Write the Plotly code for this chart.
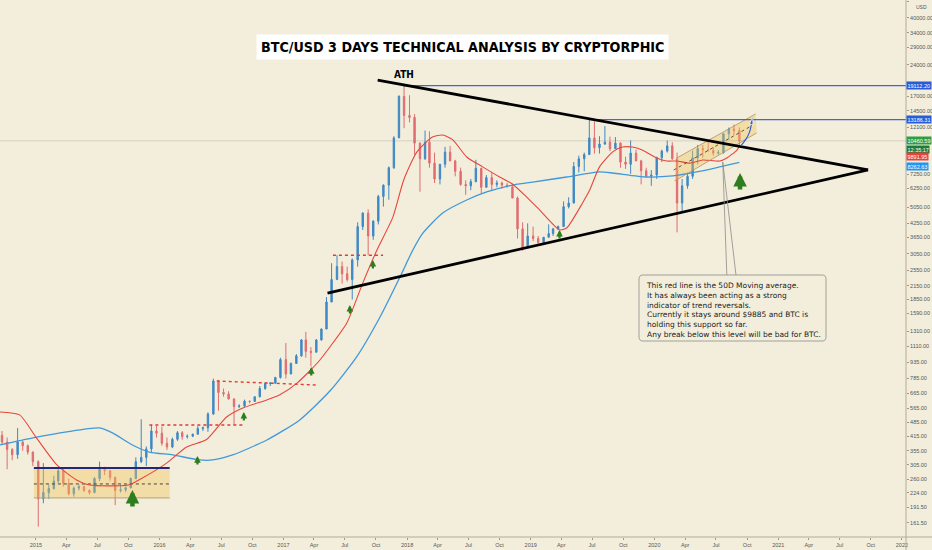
import numpy as np
import pandas as pd
import plotly.graph_objects as go

# Half-month candles (BTC/USD), Sep 2014 .. Sep 2020
first_open = 420
candle_close = [
    390, 360, 340, 390, 375, 350, 315,  # 2014
    210, 225, 235, 255, 285, 248, 222, 236, 240, 230, 225, 262,
    290, 285, 265, 230, 232, 237, 262, 315, 330, 362, 440, 430,  # 2015
    385, 370, 402, 432, 414, 416, 425, 452, 456, 530, 760, 670,
    660, 625, 575, 578, 610, 608, 640, 700, 740, 742, 790, 960,  # 2016
    820, 920, 1000, 1190, 1050, 1040, 1190, 1340, 1800, 2300, 2650, 2450,
    2300, 2850, 4100, 4750, 3700, 4350, 5700, 6450, 7800, 10800, 17000, 13800,  # 2017
    13500, 10200, 8600, 10300, 8200, 6900, 8100, 9250, 8400, 7500, 6500, 6400,
    6700, 7750, 6300, 7000, 6500, 6600, 6450, 6330, 5600, 4000, 3250, 3700,  # 2018
    3600, 3450, 3650, 3800, 4000, 4100, 5100, 5300, 7900, 8600, 9000, 10800,
    9700, 10100, 10300, 9600, 10200, 8300, 8100, 9150, 8400, 7550, 7100, 7200,  # 2019
    8700, 9350, 9900, 8600, 5300, 6400, 7100, 8700, 9600, 9500, 9400, 9150,
    9200, 11300, 11900, 11700, 10460,  # 2020
]
candle_high = [
    440, 410, 365, 455, 395, 380, 352,
    320, 310, 245, 270, 298, 290, 262, 240, 245, 242, 233, 266,
    315, 298, 288, 268, 246, 240, 265, 330, 500, 372, 470, 465,
    462, 410, 410, 440, 440, 424, 428, 465, 462, 540, 780, 770,
    700, 680, 630, 590, 620, 614, 640, 720, 750, 752, 795, 980,
    1150, 930, 1020, 1200, 1300, 1100, 1200, 1350, 1900, 2750, 3000, 2800,
    2650, 2900, 4300, 4800, 4950, 4400, 5800, 6500, 7900, 11000, 17200, 19112,
    17200, 14000, 10300, 11700, 11600, 9200, 8100, 9800, 9900, 8500, 7800, 6800,
    6900, 8500, 7800, 7200, 7400, 6800, 6700, 6600, 6550, 5700, 4300, 4250,
    4100, 3700, 3650, 4200, 4050, 4150, 5400, 5650, 8300, 8900, 9200, 13186,
    13000, 11000, 12300, 10950, 10900, 10300, 8800, 10500, 9500, 8500, 7800, 7600,
    8800, 9500, 10500, 10300, 9200, 6900, 7400, 9400, 10000, 10000, 10400, 9800,
    9450, 11400, 12100, 12500, 12100,
]
candle_low = [
    380, 290, 320, 325, 355, 340, 300,
    155, 200, 210, 232, 250, 240, 218, 215, 230, 226, 220, 223,
    255, 272, 256, 196, 225, 226, 235, 260, 310, 300, 350, 410,
    375, 358, 365, 395, 400, 405, 412, 424, 440, 436, 525, 550,
    640, 620, 470, 565, 570, 595, 605, 635, 690, 720, 740, 780,
    780, 820, 920, 990, 980, 890, 1040, 1180, 1340, 1800, 2300, 2200,
    2250, 1850, 2650, 3950, 3000, 3550, 4200, 5100, 5500, 7700, 10800, 12000,
    12800, 9000, 6000, 8500, 7800, 6600, 6500, 7800, 8400, 7100, 6400, 5800,
    6100, 6650, 5880, 6300, 6100, 6300, 6200, 6300, 5600, 3600, 3150, 3250,
    3500, 3400, 3350, 3650, 3700, 3950, 4100, 5000, 5300, 7400, 7500, 9000,
    9100, 9100, 10000, 9350, 9600, 7800, 7700, 7300, 8400, 6500, 7100, 6400,
    6900, 8300, 9200, 8500, 3850, 4800, 6200, 6900, 8100, 8700, 9300, 8900,
    9000, 9100, 10600, 11100, 10000,
]
candle_open = [first_open] + candle_close[:-1]


def half_month_dates(start, end):
    out = []
    for m in pd.period_range(start, end, freq="M"):
        for d in (8, 23):
            out.append(pd.Timestamp(year=m.year, month=m.month, day=d))
    return out


candle_dates = half_month_dates("2014-09", "2020-09")[1:-1]
assert len(candle_dates) == len(candle_close) == len(candle_high) == len(candle_low)

# 50 period moving average (red)
ma50_dates = ["2014-09-17", "2014-11-14", "2015-01-01", "2015-03-04", "2015-05-01", "2015-06-08",
              "2015-10-01", "2015-11-01", "2016-01-22", "2016-03-21", "2016-05-19", "2016-07-17",
              "2016-09-03", "2016-11-13", "2016-12-20", "2017-02-10", "2017-04-11", "2017-05-18",
              "2017-07-07", "2017-08-23", "2017-10-04", "2017-11-20", "2017-12-22", "2018-01-30",
              "2018-03-17", "2018-04-16", "2018-05-16", "2018-06-26", "2018-08-12", "2018-10-01",
              "2018-11-08", "2018-12-20", "2019-01-27", "2019-03-27", "2019-04-17", "2019-06-03",
              "2019-06-24", "2019-07-23", "2019-08-31", "2019-09-29", "2019-10-28", "2019-11-26",
              "2020-01-08", "2020-02-06", "2020-03-07", "2020-04-15", "2020-05-23", "2020-07-12",
              "2020-08-02", "2020-09-01", "2020-09-08"]
ma50_vals = [542, 525, 412, 304, 258, 244,
             244, 258, 310, 370, 401, 513,
             566, 618, 652, 743, 925, 1102,
             1432, 2213, 3177, 4550, 6823, 9268,
             10910, 11140, 10570, 8770, 7870, 7050,
             6530, 5660, 4920, 3955, 4036, 5310,
             6110, 7870, 9270, 9770, 9770, 9460,
             8670, 8390, 8390, 8200, 8490, 8390,
             8670, 9460, 9892]

# 200 period moving average (blue)
ma200_dates = ["2014-09-17", "2014-12-23", "2015-04-02", "2015-07-08", "2015-08-15", "2015-10-13",
               "2015-12-02", "2016-02-09", "2016-04-28", "2016-06-06", "2016-08-04", "2016-11-13",
               "2017-02-18", "2017-05-18", "2017-08-05", "2017-10-13", "2017-12-11", "2018-01-18",
               "2018-02-17", "2018-04-16", "2018-06-26", "2018-08-24", "2018-11-08", "2019-01-07",
               "2019-04-17", "2019-07-23", "2019-08-31", "2019-12-09", "2020-02-24", "2020-05-05",
               "2020-07-12", "2020-09-08"]
ma200_vals = [378, 408, 436, 455, 431, 378,
              350, 339, 321, 321, 339, 399,
              497, 681, 988, 1528, 2366, 3177,
              3828, 4755, 5483, 5984, 6457, 6668,
              7047, 7447, 7362, 7047, 7129, 7447,
              7870, 8263]

# drawings
tri_upper = (["2017-10-06", "2021-09-23"], [20320, 7610])
tri_lower = (["2017-05-11", "2021-09-23"], [1986, 7610])
ath_level, ath_date = 19112.20, "2017-12-20"
peak19_level, peak19_date = 13186.31, "2019-06-26"
last_price = 10460.59
ma50_last, ma200_last = 9891.95, 8262.63
red_dotted = [
    (["2015-12-02", "2016-09-03"], [470, 470]),
    (["2016-06-18", "2017-04-10"], [760, 727]),
    (["2017-05-27", "2017-10-22"], [3000, 3000]),
]
box15_dates = ["2014-12-26", "2016-01-31"]
box15_levels = [212, 247, 294]
chan_upper = (["2020-03-07", "2020-10-26"], [8670, 14030])
chan_lower = (["2020-03-01", "2020-10-29"], [6745, 11400])
chan_mid = (["2020-02-27", "2020-10-08"], [7605, 12170])
curve_dates = ["2020-09-12", "2020-09-26", "2020-10-08", "2020-10-17"]
curve_vals = [9890, 10570, 11510, 13430]
callout_tip = ("2020-07-21", 8300)
callout_feet = (["2020-08-02", "2020-08-29"], [2417, 2417])
small_arrow_dates = ["2016-04-22", "2016-09-06", "2017-03-24", "2017-07-16", "2017-09-22", "2019-03-27"]
small_arrow_prices = [335, 542, 885, 1742, 2850, 3955]
big_arrow_dates = ["2015-10-13", "2020-09-10"]
big_arrow_prices = [231, 7362]

y_ticks = [48000, 40000, 34000, 29000, 24000, 17000, 14500, 12100, 7250, 6250, 5050, 4250,
           3650, 3050, 2550, 2150, 1850, 1590, 1310, 1110, 935, 785, 665, 565, 485, 415,
           355, 305, 260, 224, 191.5, 161.5]
x_ticks = pd.date_range("2015-01-01", "2022-01-01", freq="QS")
x_labels = [str(d.year) if d.month == 1 else d.strftime("%b") for d in x_ticks]

BG = "#F3EEDB"
UP, DOWN = "#3f88c5", "#e06c70"
GREEN = "#2e7d1e"
PLOT_W, PLOT_H = 906, 537
SMALL_FONT = dict(family="Liberation Sans, Arial", size=5.5, color="#555")

fig = go.Figure()


def line(x, y, color, width=1.0, dash=None, **kw):
    fig.add_trace(go.Scatter(x=x, y=y, mode="lines", hoverinfo="skip",
                             line=dict(color=color, width=width, dash=dash), **kw))


# 2015 range box
bx = [box15_dates[0], box15_dates[1], box15_dates[1], box15_dates[0], box15_dates[0]]
by = [box15_levels[0], box15_levels[0], box15_levels[2], box15_levels[2], box15_levels[0]]
fig.add_trace(go.Scatter(x=bx, y=by, fill="toself", fillcolor="rgba(240,195,90,0.4)",
                         mode="lines", line=dict(width=0), hoverinfo="skip"))
line(box15_dates, [box15_levels[0]] * 2, "#b0a080", 1)
line(box15_dates, [box15_levels[1]] * 2, "#444", 1, "dot")

# 2020 rising channel
cx = chan_upper[0] + chan_lower[0][::-1] + chan_upper[0][:1]
cy = chan_upper[1] + chan_lower[1][::-1] + chan_upper[1][:1]
fig.add_trace(go.Scatter(x=cx, y=cy, fill="toself", fillcolor="rgba(240,195,90,0.4)",
                         mode="lines", line=dict(width=0), hoverinfo="skip"))

fig.add_trace(go.Candlestick(
    x=candle_dates, open=candle_open, high=candle_high, low=candle_low, close=candle_close,
    increasing=dict(line=dict(color=UP, width=1), fillcolor=UP),
    decreasing=dict(line=dict(color=DOWN, width=1), fillcolor=DOWN),
    whiskerwidth=0, hoverinfo="skip"))

fig.add_trace(go.Scatter(x=ma200_dates, y=ma200_vals, mode="lines", hoverinfo="skip",
                         line=dict(color="#3f98dc", width=1.3, shape="spline", smoothing=0.6)))
fig.add_trace(go.Scatter(x=ma50_dates, y=ma50_vals, mode="lines", hoverinfo="skip",
                         line=dict(color="#e8453c", width=1.1, shape="spline", smoothing=0.6)))

line(chan_upper[0], chan_upper[1], "#a8936a", 0.8)
line(chan_lower[0], chan_lower[1], "#a8936a", 0.8)
line(chan_mid[0], chan_mid[1], "#333", 0.8, "dot")
line(box15_dates, [box15_levels[2]] * 2, "#262680", 2)

for dx, dy in red_dotted:
    line(dx, dy, "#e53935", 1.4, "dot")

line(["2014-09-01", "2022-03-01"], [last_price] * 2, "rgba(120,120,120,0.35)", 0.7)
line([ath_date, "2022-03-01"], [ath_level] * 2, "#3a6ad4", 1.3)
line([peak19_date, "2022-03-01"], [peak19_level] * 2, "#3a6ad4", 1.3)

line(tri_upper[0], tri_upper[1], "black", 2.8)
line(tri_lower[0], tri_lower[1], "black", 2.8)

for fx, fy in zip(*callout_feet):
    line([callout_tip[0], fx], [callout_tip[1], fy], "#8a8a8a", 0.8)

fig.add_trace(go.Scatter(x=curve_dates, y=curve_vals, mode="lines+markers", hoverinfo="skip",
                         line=dict(color="#2a5bd7", width=1.1, shape="spline"),
                         marker=dict(symbol="arrow", angleref="previous", color="#2a5bd7",
                                     size=[0, 0, 0, 7])))

annotations = []
for d, p in zip(small_arrow_dates, small_arrow_prices):
    annotations.append(dict(x=d, y=np.log10(p), text="", showarrow=True, ax=0, ay=10,
                            arrowcolor=GREEN, arrowwidth=2.2, arrowhead=2, arrowsize=0.6))
for d, p in zip(big_arrow_dates, big_arrow_prices):
    annotations.append(dict(x=d, y=np.log10(p), text="", showarrow=True, ax=0, ay=18,
                            arrowcolor=GREEN, arrowwidth=4.5, arrowhead=2, arrowsize=0.6))

annotations.append(dict(x="2017-12-22", y=np.log10(21470), text="<b>ATH</b>", showarrow=False,
                        yanchor="middle",
                        font=dict(family="DejaVu Sans Condensed, Liberation Sans", size=10,
                                  color="black")))
annotations.append(dict(xref="paper", yref="paper", x=463 / PLOT_W, y=1 - 47 / PLOT_H,
                        yanchor="middle",
                        text="<b>BTC/USD 3 DAYS TECHNICAL ANALYSIS BY CRYPTORPHIC</b>",
                        showarrow=False, bgcolor="white", borderpad=4,
                        font=dict(family="DejaVu Sans Condensed, Liberation Sans Narrow, sans-serif",
                                  size=14.2, color="black")))
note = ("This red line is the 50D Moving average.<br>"
        "It has always been acting as a strong<br>"
        "indicator of trend reversals.<br>"
        "Currently it stays around $9885 and BTC is<br>"
        "holding this support so far.<br>"
        "Any break below this level will be bad for BTC.")
annotations.append(dict(xref="paper", yref="paper", x=644 / PLOT_W, y=1 - 279 / PLOT_H,
                        xanchor="left", yanchor="top", align="left", text=note, showarrow=False,
                        font=dict(family="DejaVu Sans", size=7.5, color="#222")))

# price badges on the right scale; the shift keeps them stacked like the original
badges = [(ath_level, "19112.20", "#2a5bd7", 0), (peak19_level, "13186.31", "#2a5bd7", 0),
          (last_price, "10460.59", "#2f9e44", 0), (last_price, "12:35:17", "#237a37", -9),
          (ma50_last, "9891.95", "#e8413c", -11), (ma200_last, "8262.63", "#2196f3", -4)]
for v, t, c, sh in badges:
    annotations.append(dict(xref="paper", yref="y", x=1, y=np.log10(v), xanchor="left",
                            yanchor="middle", yshift=sh, text=t, showarrow=False, bgcolor=c,
                            borderpad=0.5, font=dict(family="Liberation Sans, Arial", size=5.5,
                                                     color="white")))
annotations.append(dict(xref="paper", yref="paper", x=1, y=1 - 7 / PLOT_H, xanchor="left",
                        yanchor="middle", text="USD", showarrow=False, xshift=8,
                        font=dict(family="Liberation Sans, Arial", size=5, color="#555")))


def rounded_box(x0, y0, x1, y1, r):
    def p(x, y):
        return f"{x / PLOT_W:.5f},{1 - y / PLOT_H:.5f}"
    return (f"M {p(x0 + r, y0)} L {p(x1 - r, y0)} Q {p(x1, y0)} {p(x1, y0 + r)} "
            f"L {p(x1, y1 - r)} Q {p(x1, y1)} {p(x1 - r, y1)} L {p(x0 + r, y1)} "
            f"Q {p(x0, y1)} {p(x0, y1 - r)} L {p(x0, y0 + r)} Q {p(x0, y0)} {p(x0 + r, y0)} Z")


shapes = [
    dict(type="path", xref="paper", yref="paper", path=rounded_box(639, 275, 826, 341, 4),
         fillcolor=BG, line=dict(color="#8a8a8a", width=0.8), layer="above"),
    dict(type="line", xref="paper", yref="paper", x0=0, x1=932 / PLOT_W, y0=0, y1=0,
         line=dict(color="#b0ab9a", width=1)),
    dict(type="line", xref="paper", yref="paper", x0=1, x1=1, y0=-13 / PLOT_H, y1=1,
         line=dict(color="#b0ab9a", width=1)),
]

fig.update_layout(
    width=932, height=550, margin=dict(l=0, r=26, t=0, b=13),
    paper_bgcolor=BG, plot_bgcolor=BG, showlegend=False, boxgap=0.55,
    annotations=annotations, shapes=shapes,
    xaxis=dict(type="date", range=["2014-09-17", "2022-01-13"], rangeslider=dict(visible=False),
               showgrid=False, zeroline=False, showline=False, tickmode="array",
               tickvals=x_ticks, ticktext=x_labels, ticks="outside", ticklen=2,
               tickcolor="#999", tickfont=SMALL_FONT, automargin=False),
    yaxis=dict(type="log", side="right", range=[2.1411, 4.6873], showgrid=False, zeroline=False,
               showline=False, tickmode="array", tickvals=y_ticks,
               ticktext=[f"{v:.2f}" for v in y_ticks], ticks="outside", ticklen=2,
               tickcolor="#999", tickfont=SMALL_FONT, automargin=False),
)

fig.write_html("out.html", config={"displayModeBar": False},
               post_script="document.body.style.margin='0';document.body.style.overflow='hidden';")
